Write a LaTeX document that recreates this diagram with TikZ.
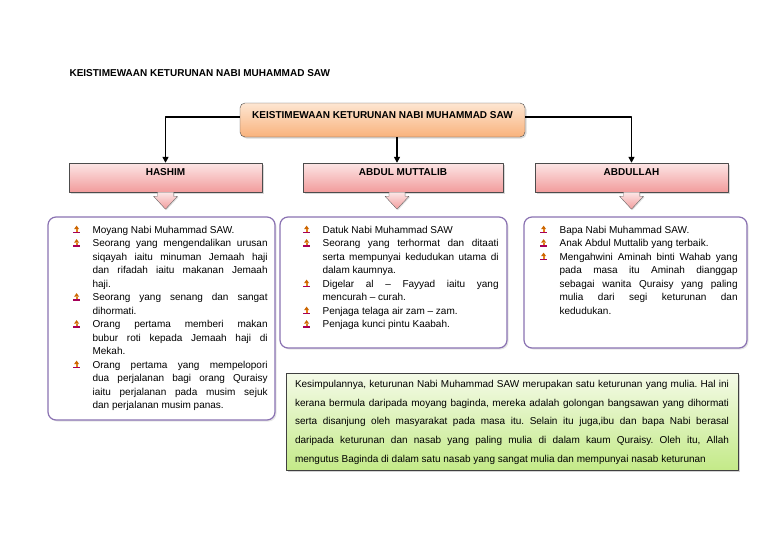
\documentclass[tikz,border=0pt]{standalone}
\usepackage{fontspec}
\setmainfont{Liberation Sans}
\usepackage{tikz}
\usetikzlibrary{arrows.meta,calc,positioning,shadows}
\frenchspacing

\definecolor{peachtop}{HTML}{FDE6D2}
\definecolor{peachbot}{HTML}{F9B27C}
\definecolor{pinktop}{HTML}{FCE6E6}
\definecolor{pinkbot}{HTML}{F29C9C}
\definecolor{greentop}{HTML}{F4FAE8}
\definecolor{greenbot}{HTML}{C4EA88}
\definecolor{lilac}{HTML}{8A72B2}

% little bullet icon
\newcommand\bul{\tikz[baseline=0pt,x=1pt,y=1pt]{%
  \fill[orange!80!black] (1.5,4) -- (4,7.5) -- (6.5,4) -- cycle;
  \fill[orange!60!brown] (3,1.5) rectangle (5,4);
  \fill[violet!70!red] (0.5,0) rectangle (7,1.6);}}
\newenvironment{points}{\begin{list}{\bul}{\setlength\leftmargin{20pt}%
  \setlength\labelwidth{7pt}\setlength\labelsep{13pt}\setlength\itemsep{0pt}%
  \setlength\parsep{0pt}\setlength\topsep{0pt}\setlength\partopsep{0pt}}}{\end{list}}
% block arrow below a box
\newcommand\blockarrow[1]{\path[blockarrow] ($#1+(-8,0)$) -- ($#1+(-8,4)$) -- ($#1+(-12,4)$)
  -- ($#1+(0,17)$) -- ($#1+(12,4)$) -- ($#1+(8,4)$) -- ($#1+(8,0)$) -- cycle;}

\begin{document}
\begin{tikzpicture}[x=1pt,y=-1pt,>=Stealth,line join=round,
  heading/.style={font=\fontsize{10}{12}\selectfont\bfseries},
  topbox/.style={heading,draw=black!70,rounded corners=5pt,top color=peachtop,bottom color=peachbot,
    minimum width=285pt,inner ysep=3pt,text height=12.5pt,text depth=15.5pt,
    drop shadow={opacity=0.3,shadow xshift=1.5pt,shadow yshift=-1.5pt}},
  namebox/.style={heading,draw=black!70,top color=pinktop,bottom color=pinkbot,
    inner ysep=3pt,text height=9.5pt,text depth=13.5pt,
    drop shadow={opacity=0.3,shadow xshift=1.5pt,shadow yshift=-1.5pt}},
  blockarrow/.style={draw=black!60,top color=pinktop,bottom color=pinkbot,
    drop shadow={opacity=0.25,shadow xshift=1pt,shadow yshift=-1pt}},
  listbox/.style={draw=lilac,line width=1.2pt,rounded corners=8pt,fill=white,
    drop shadow={opacity=0.2,shadow xshift=1.5pt,shadow yshift=-1.5pt}},
  listtext/.style={inner sep=0pt,align=justify,font=\fontsize{10}{13.5}\selectfont},
  conn/.style={line width=1.6pt,-{Triangle[length=6pt,width=6pt]}}]
\useasboundingbox (0,0) rectangle (768,543);

% title
\node[heading,anchor=base west] (title) at (66,77) {KEISTIMEWAAN KETURUNAN NABI MUHAMMAD SAW};

% top box and the three names
\node[topbox] (top) at (382.5,120) {KEISTIMEWAAN KETURUNAN NABI MUHAMMAD SAW};
\node[namebox,minimum width=193pt] (hashim) at (165.5,177.5) {HASHIM};
\node[namebox,minimum width=200pt] (muttalib) at (403,177.5) {ABDUL MUTTALIB};
\node[namebox,minimum width=193pt] (abdullah) at (631.5,177.5) {ABDULLAH};
\coordinate (mid) at (397,0);

% connectors
\draw[conn] ([yshift=3pt]top.west) -| (hashim.north);
\draw[conn] ([yshift=3pt]top.east) -| (abdullah.north);
\draw[conn] (top.south -| mid) -- (muttalib.north -| mid);

% block arrows
\blockarrow{(hashim.south)}
\blockarrow{(muttalib.south -| mid)}
\blockarrow{(abdullah.south)}

% lists
\node[listbox,minimum width=227pt,minimum height=203pt] (hashimbox) at (161.5,318.5) {};
\node[listbox,minimum width=227pt,minimum height=131pt] (muttalibbox) at (393.5,282.5) {};
\node[listbox,minimum width=223pt,minimum height=131pt] (abdullahbox) at (635.5,282.5) {};

\node[listtext,text width=195pt,below right=3pt and 25pt of hashimbox.north west] (hashimtext) {%
\begin{points}
\item Moyang Nabi Muhammad SAW.
\item Seorang yang mengendalikan urusan\linebreak siqayah iaitu minuman Jemaah haji\linebreak dan rifadah iaitu makanan Jemaah\linebreak haji.
\item Seorang yang senang dan sangat\linebreak dihormati.
\item Orang pertama memberi makan\linebreak bubur roti kepada Jemaah haji di\linebreak Mekah.
\item Orang pertama yang mempelopori\linebreak dua perjalanan bagi orang Quraisy\linebreak iaitu perjalanan pada musim sejuk\linebreak dan perjalanan musim panas.
\end{points}};

\node[listtext,text width=196pt,below right=3pt and 23pt of muttalibbox.north west] (muttalibtext) {%
\begin{points}
\item Datuk Nabi Muhammad SAW
\item Seorang yang terhormat dan ditaati\linebreak serta mempunyai kedudukan utama di\linebreak dalam kaumnya.
\item Digelar al -- Fayyad iaitu yang\linebreak mencurah -- curah.
\item Penjaga telaga air zam -- zam.
\item Penjaga kunci pintu Kaabah.
\end{points}};

\node[listtext,text width=198pt,below right=3pt and 16pt of abdullahbox.north west] (abdullahtext) {%
\begin{points}
\item Bapa Nabi Muhammad SAW.
\item Anak Abdul Muttalib yang terbaik.
\item Mengahwini Aminah binti Wahab yang\linebreak pada masa itu Aminah dianggap\linebreak sebagai wanita Quraisy yang paling\linebreak mulia dari segi keturunan dan\linebreak kedudukan.
\end{points}};

% conclusion
\node[draw=black!75,top color=greentop,bottom color=greenbot,minimum width=452pt,minimum height=97pt,
  drop shadow={opacity=0.35,shadow xshift=2pt,shadow yshift=-2pt}] (summary) at (512,421.5) {};
\node[inner sep=0pt,align=justify,text width=434pt,font=\fontsize{10}{18.8}\selectfont,
  below right=7pt and 9pt of summary.north west] (summarytext) {\parfillskip=0pt
Kesimpulannya, keturunan Nabi Muhammad SAW merupakan satu keturunan yang mulia. Hal ini\linebreak
kerana bermula daripada moyang baginda, mereka adalah golongan bangsawan yang dihormati\linebreak
serta disanjung oleh masyarakat pada masa itu. Selain itu juga,ibu dan bapa Nabi berasal\linebreak
daripada keturunan dan nasab yang paling mulia di dalam kaum Quraisy. Oleh itu, Allah\linebreak
mengutus Baginda di dalam satu nasab yang sangat mulia dan mempunyai nasab keturunan};
\end{tikzpicture}
\end{document}
